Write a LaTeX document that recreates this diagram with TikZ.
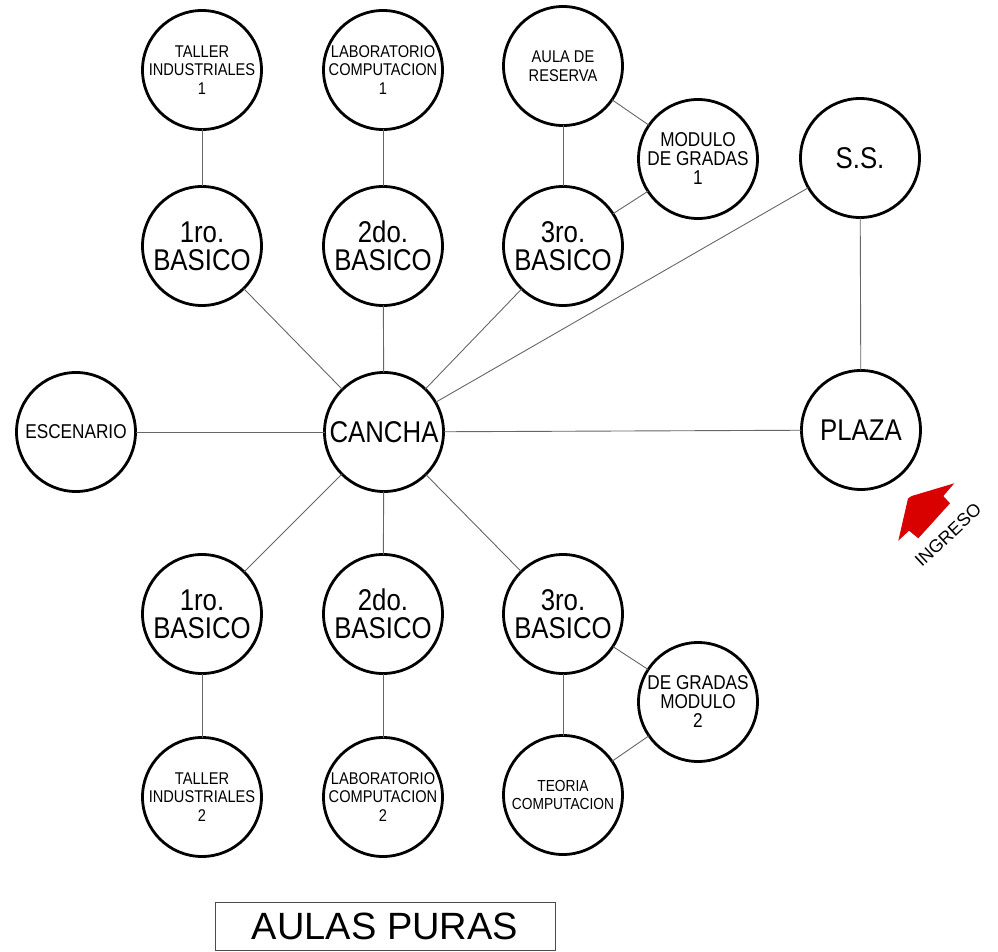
\documentclass[tikz,border=0pt]{standalone}
\usepackage{fontspec}
\newfontfamily\lbl[FakeStretch=0.86]{Liberation Sans}
\newfontfamily\plainsans{Liberation Sans}
\begin{document}
\begin{tikzpicture}[x=1pt,y=-1pt,
  room/.style={circle, draw, line width=2.8pt, minimum size=119pt, inner sep=0pt, outer sep=0pt, align=center},
  bigtxt/.style={font=\lbl\fontsize{30}{28}\selectfont},
  smalltxt/.style={font=\lbl\fontsize{17}{18.5}\selectfont},
  midtxt/.style={font=\lbl\fontsize{20}{19}\selectfont},
  link/.style={draw=black!60, line width=0.9pt}]
\useasboundingbox (0,0) rectangle (998,952);
% top row
\node[room,smalltxt] (T1) at (202,70) {TALLER\\INDUSTRIALES\\1};
\node[room,smalltxt] (L1) at (383,70) {LABORATORIO\\COMPUTACION\\1};
\node[room,smalltxt] (AR) at (563,66) {AULA DE\\RESERVA};
\node[room,midtxt] (MG1) at (698,159) {MODULO\\DE GRADAS\\1};
\node[room,bigtxt] (SS) at (860,158) {S.S.};
% second row
\node[room,bigtxt] (B1t) at (202,246) {1ro.\\BASICO};
\node[room,bigtxt] (B2t) at (383,246) {2do.\\BASICO};
\node[room,bigtxt] (B3t) at (563,246) {3ro.\\BASICO};
% middle row
\node[room,font=\lbl\fontsize{20}{20}\selectfont] (ESC) at (76,432) {ESCENARIO};
\node[room,bigtxt] (CAN) at (384,432) {CANCHA};
\node[room,bigtxt] (PLA) at (861,430) {PLAZA};
% lower rows
\node[room,bigtxt] (B1b) at (202,614) {1ro.\\BASICO};
\node[room,bigtxt] (B2b) at (383,614) {2do.\\BASICO};
\node[room,bigtxt] (B3b) at (563,614) {3ro.\\BASICO};
\node[room,midtxt] (MG2) at (698,702) {DE GRADAS\\MODULO\\2};
\node[room,smalltxt] (T2) at (202,797) {TALLER\\INDUSTRIALES\\2};
\node[room,smalltxt] (L2) at (383,797) {LABORATORIO\\COMPUTACION\\2};
\node[room,font=\lbl\fontsize{16}{17.5}\selectfont] (TC) at (563,795) {TEORIA\\COMPUTACION};
% connectors
\path[link] (T1) -- (B1t);
\path[link] (L1) -- (B2t);
\path[link] (AR) -- (B3t);
\path[link] (AR) -- (MG1);
\path[link] (MG1) -- (B3t);
\path[link] (B1t) -- (CAN);
\path[link] (B2t) -- (CAN);
\path[link] (B3t) -- (CAN);
\path[link] (SS) -- (CAN);
\path[link] (SS) -- (PLA);
\path[link] (ESC) -- (CAN);
\path[link] (CAN) -- (PLA);
\path[link] (CAN) -- (B1b);
\path[link] (CAN) -- (B2b);
\path[link] (CAN) -- (B3b);
\path[link] (B1b) -- (T2);
\path[link] (B2b) -- (L2);
\path[link] (B3b) -- (TC);
\path[link] (B3b) -- (MG2);
\path[link] (MG2) -- (TC);
% entrance arrow
\fill[red!85!black] (954.3,483.3) -- (943.3,496) -- (950,503.3) -- (918.3,538.3) -- (909,530.7) -- (898.3,540.7) -- (908,498.5) -- (911.7,496) -- cycle;
\node[font=\plainsans\fontsize{18}{18}\selectfont, rotate=43] (ING) at (948,535) {INGRESO};
% title box
\node[draw=black!70, line width=0.8pt, minimum width=340pt, minimum height=48pt, inner sep=0pt,
      font=\plainsans\fontsize{38}{38}\selectfont] (TITLE) at (385,926) {AULAS PURAS};
\end{tikzpicture}
\end{document}
